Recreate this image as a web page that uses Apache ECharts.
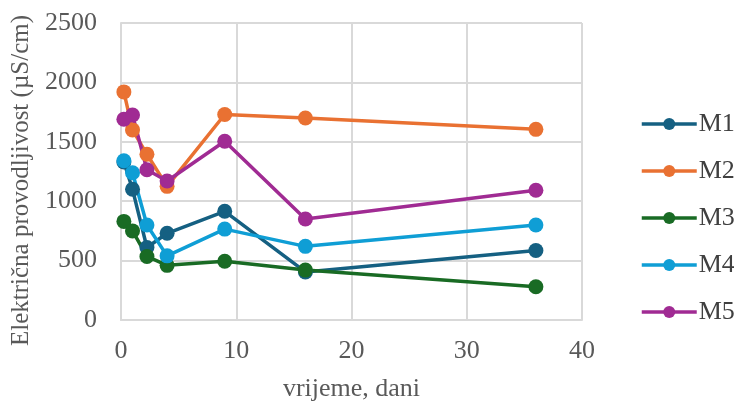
<!DOCTYPE html>
<html><head><meta charset="utf-8">
<script src="https://cdn.jsdelivr.net/npm/echarts@6/dist/echarts.min.js"></script>
<style>html,body{margin:0;padding:0;background:#fff}#c{width:734px;height:405px}</style>
</head><body><div id="c"></div>
<script>
const days = [0.25, 1, 2.25, 4, 9, 16, 36];
const seriesNames = ['M1', 'M2', 'M3', 'M4', 'M5'];
const M1 = [1330, 1100, 610, 730, 915, 405, 585];
const M2 = [1920, 1600, 1395, 1125, 1730, 1700, 1605];
const M3 = [830, 750, 535, 460, 495, 420, 280];
const M4 = [1340, 1240, 800, 540, 765, 620, 800];
const M5 = [1690, 1725, 1265, 1170, 1505, 850, 1092];
const colors = ['#156082', '#E97132', '#196B24', '#0F9ED5', '#A02B93'];
const all = [M1, M2, M3, M4, M5];
const font = 'Liberation Serif';
const chart = echarts.init(document.getElementById('c'));
chart.setOption({
  animation: false,
  textStyle: {fontFamily: font},
  grid: {left: 121, right: 152, top: 23, bottom: 85, containLabel: false, outerBoundsMode: 'none'},
  legend: {
    orient: 'vertical', left: 635, top: 106, itemGap: 21,
    itemWidth: 55, itemHeight: 15,
    lineStyle: {width: 3.5},
    textStyle: {fontFamily: font, fontSize: 26, lineHeight: 26, color: '#404040', padding: [0,0,0,-3]},
    data: seriesNames
  },
  xAxis: {
    type: 'value', min: 0, max: 40, interval: 10,
    name: 'vrijeme, dani', nameLocation: 'middle', nameGap: 56,
    nameTextStyle: {fontFamily: font, fontSize: 26, color: '#595959'},
    axisLine: {show: true, lineStyle: {color: '#d9d9d9', width: 2}},
    axisTick: {show: false},
    axisLabel: {fontFamily: font, fontSize: 26, color: '#595959', margin: 18},
    splitLine: {show: true, lineStyle: {color: '#d9d9d9', width: 2}}
  },
  yAxis: {
    type: 'value', min: 0, max: 2500, interval: 500,
    name: 'Električna provodljivost (µS/cm)', nameLocation: 'middle', nameGap: 84,
    nameTextStyle: {fontFamily: font, fontSize: 25, color: '#595959', padding: [0, 18, 0, 0]},
    axisLine: {show: true, lineStyle: {color: '#d9d9d9', width: 2}},
    axisTick: {show: false},
    axisLabel: {fontFamily: font, fontSize: 26, color: '#595959', margin: 24, formatter: v => String(v)},
    splitLine: {show: true, lineStyle: {color: '#d9d9d9', width: 2}}
  },
  series: seriesNames.map((n, i) => ({
    name: n, type: 'line',
    data: days.map((d, j) => [d, all[i][j]]),
    symbol: 'circle', symbolSize: 15,
    lineStyle: {color: colors[i], width: 3.5},
    itemStyle: {color: colors[i]}
  }))
});
</script></body></html>
